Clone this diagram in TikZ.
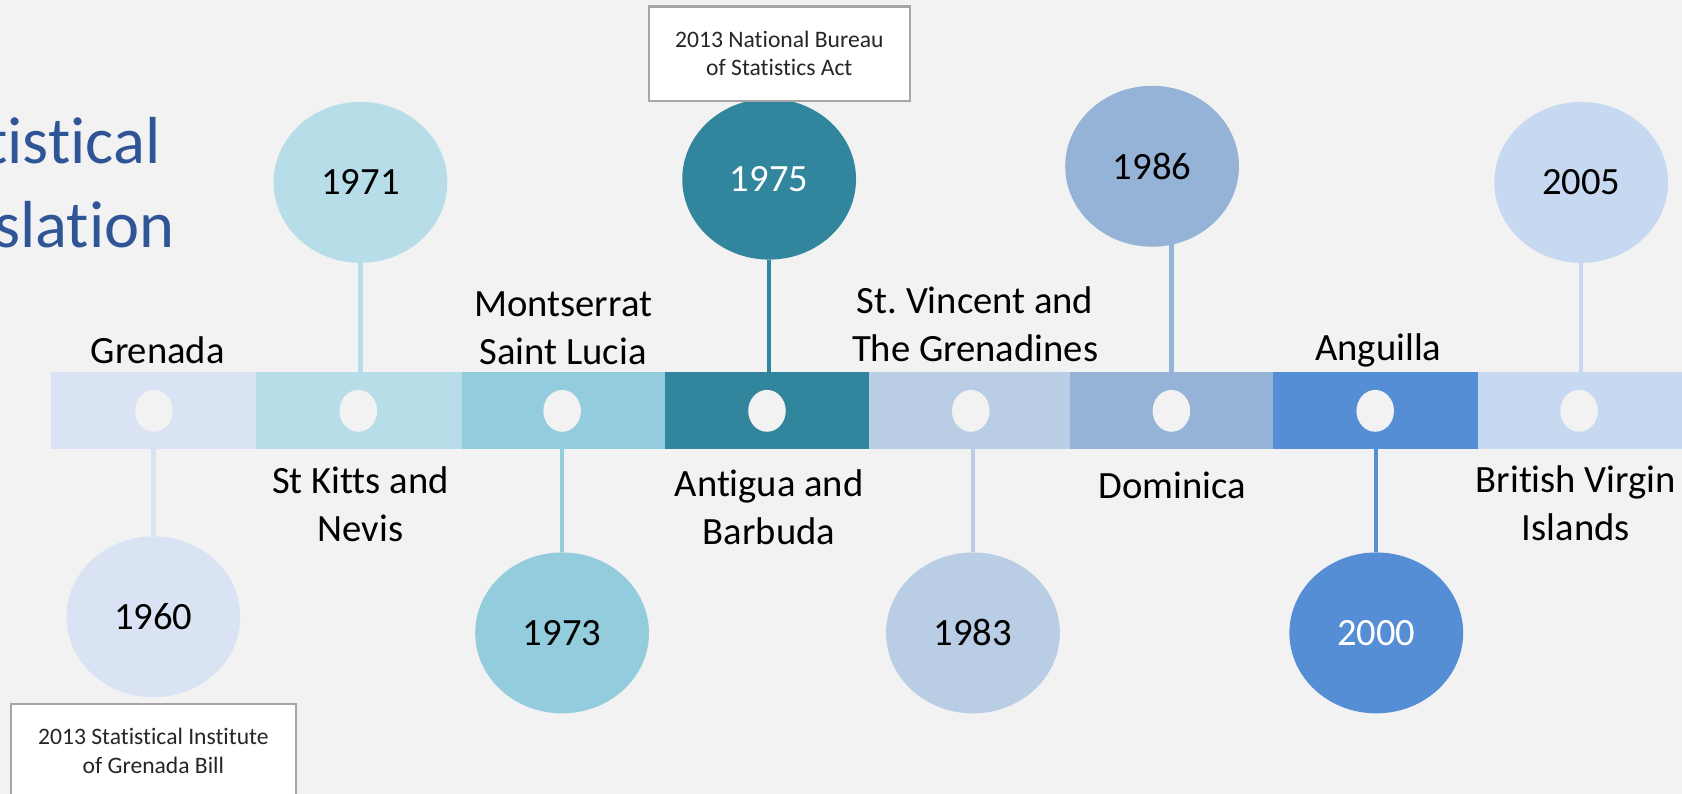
\documentclass[tikz,border=0pt]{standalone}
\usepackage{fontspec}
\setmainfont{Carlito}[RawFeature=-liga]
\usetikzlibrary{shapes.geometric}
\definecolor{bgc}{HTML}{F2F2F2}
\definecolor{cA}{HTML}{DAE3F3}
\definecolor{cB}{HTML}{B7DEE8}
\definecolor{cC}{HTML}{93CDDD}
\definecolor{cD}{HTML}{31859C}
\definecolor{cE}{HTML}{B9CDE5}
\definecolor{cF}{HTML}{95B3D7}
\definecolor{cG}{HTML}{558ED5}
\definecolor{cH}{HTML}{C6D9F1}
\definecolor{titlec}{HTML}{2F5597}
\definecolor{boxline}{HTML}{A6A6A6}
\definecolor{boxtext}{HTML}{262626}
\pgfdeclarelayer{bglayer}
\pgfdeclarelayer{linelayer}
\pgfsetlayers{bglayer,linelayer,main}
\begin{document}
\begin{tikzpicture}[x=0.5pt,y=-0.5pt,
  yearc/.style={ellipse, inner sep=0pt, minimum width=81pt, minimum height=75pt, font=\fontsize{18}{22}\selectfont},
  dotc/.style={ellipse, fill=bgc, inner sep=0pt, minimum width=17.5pt, minimum height=19.5pt},
  lbl/.style={anchor=base, align=center, font=\fontsize{18}{22.5}\selectfont, inner sep=0pt},
  conn/.style={line width=2pt},
  notebox/.style={draw=boxline, line width=1pt, fill=white, align=center, text=boxtext, font=\fontsize{11}{13.25}\selectfont, inner sep=0pt},
  titlet/.style={anchor=base east, text=titlec, font=\fontsize{31}{37}\selectfont, inner sep=0pt}
]
\useasboundingbox (0,0) rectangle (1568,740);
\clip (0,0) rectangle (1568,740);
\begin{pgfonlayer}{bglayer}
  \fill[bgc] (0,0) rectangle (1568,740);
  \fill[cA] (48,347) rectangle (239,419);
  \fill[cB] (239,347) rectangle (431,419);
  \fill[cC] (431,347) rectangle (620,419);
  \fill[cD] (620,347) rectangle (810,419);
  \fill[cE] (810,347) rectangle (997,419);
  \fill[cF] (997,347) rectangle (1187,419);
  \fill[cG] (1187,347) rectangle (1378,419);
  \fill[cH] (1378,347) rectangle (1568,419);
\end{pgfonlayer}
\coordinate (barbot) at (0,419);

% title (cut at the left edge, as in the slide)
\node[titlet] (t1) at (150,152) {Statistical};
\node[titlet] (t2) at (163,231) {Legislation};

% dots in the bar
\node[dotc] (d1) at (143.5,383) {};
\node[dotc] (d2) at (334,383) {};
\node[dotc] (d3) at (524,383) {};
\node[dotc] (d4) at (715,383) {};
\node[dotc] (d5) at (905,383) {};
\node[dotc] (d6) at (1092,383) {};
\node[dotc] (d7) at (1282,383) {};
\node[dotc] (d8) at (1472,383) {};

% year circles
\node[yearc, fill=cA] (c60) at (143,575) {1960};
\node[yearc, fill=cB] (c71) at (336,170) {1971};
\node[yearc, fill=cC] (c73) at (524,590) {1973};
\node[yearc, fill=cD, text=white] (c75) at (717,167) {1975};
\node[yearc, fill=cE] (c83) at (907,590) {1983};
\node[yearc, fill=cF] (c86) at (1074,155) {1986};
\node[yearc, fill=cG, text=white] (c00) at (1283,590) {2000};
\node[yearc, fill=cH] (c05) at (1474,170) {2005};

% connectors
\begin{pgfonlayer}{linelayer}
  \draw[conn, cA] (c60 |- barbot) -- (c60);
  \draw[conn, cB] (c71) -- (c71 |- d2);
  \draw[conn, cC] (c73 |- barbot) -- (c73);
  \draw[conn, cD] (c75) -- (c75 |- d4);
  \draw[conn, cE] (c83 |- barbot) -- (c83);
  \draw[conn, cF] (d6) -- (d6 |- c86);
  \draw[conn, cG] (c00 |- barbot) -- (c00);
  \draw[conn, cH] (c05) -- (c05 |- d8);
\end{pgfonlayer}

% country labels (anchor = baseline of the last line)
\node[lbl] (l1) at (147,339) {Grenada};
\node[lbl] (l2) at (336,505) {St Kitts and\\Nevis};
\node[lbl] (l3) at (525,340) {Montserrat\\Saint Lucia};
\node[lbl] (l4) at (717,508) {Antigua and\\Barbuda};
\node[lbl] (l5) at (909,337) {St.\ Vincent and\\The Grenadines};
\node[lbl] (l6) at (1093,465) {Dominica};
\node[lbl] (l7) at (1285,336) {Anguilla};
\node[lbl] (l8) at (1469,504) {British Virgin\\Islands};

% note boxes
\node[notebox, minimum width=121.5pt, minimum height=44pt] (n1) at (726.5,50) {2013 National Bureau\\of Statistics Act};
\node[notebox, minimum width=133pt, minimum height=44pt] (n2) at (143,700) {2013 Statistical Institute\\of Grenada Bill};
\end{tikzpicture}
\end{document}
